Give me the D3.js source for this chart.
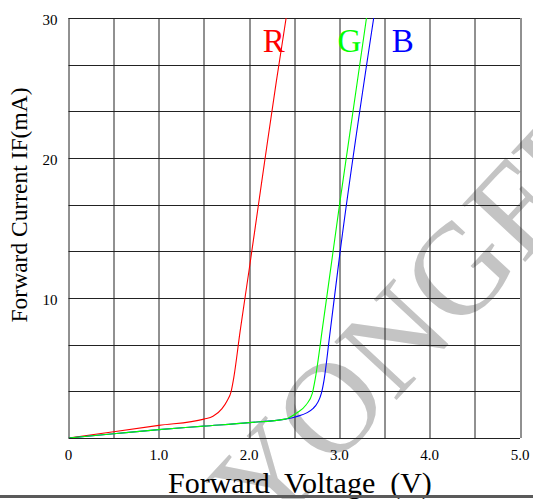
<!DOCTYPE html>
<html>
<head>
<meta charset="utf-8">
<script src="https://cdn.jsdelivr.net/npm/d3@7"></script>
<style>
  body { margin: 0; background: #fff; }
  svg { display: block; }
  text { font-family: "Liberation Serif", "Times New Roman", serif; }
</style>
</head>
<body>
<svg id="chart"></svg>
<script>
// data (V, mA)
var redV   = [0, 0.5, 1.0, 1.5, 1.6, 1.7, 1.76, 1.8, 1.83, 1.9, 2.0, 2.1, 2.2, 2.3, 2.41];
var redI   = [0, 0.45, 0.9, 1.35, 1.55, 2.1, 2.7, 3.3, 4.3, 7.6, 12.0, 16.5, 21.0, 25.4, 30];
var greenV = [0, 0.5, 1.0, 1.5, 2.0, 2.4, 2.52, 2.63, 2.70, 2.73, 2.82, 3.0, 3.30];
var greenI = [0, 0.3, 0.6, 0.85, 1.1, 1.35, 1.76, 2.36, 3.19, 4.14, 8.2, 16.6, 30];
var blueV  = [0, 0.5, 1.0, 1.5, 2.0, 2.4, 2.52, 2.71, 2.80, 2.83, 2.89, 3.0, 3.38];
var blueI  = [0, 0.3, 0.6, 0.85, 1.1, 1.35, 1.52, 2.12, 3.19, 4.14, 7.2, 12.9, 30];

var xTicks = [0, 1.0, 2.0, 3.0, 4.0, 5.0];
var yTicks = [10, 20, 30];
var seriesNames = ["R", "G", "B"];

var width = 533, height = 499;
var margin = { left: 68.5, top: 18, right: 13, bottom: 61 };
var innerW = width - margin.left - margin.right;
var innerH = height - margin.top - margin.bottom;

var svg = d3.select("#chart").attr("width", width).attr("height", height);

var x = d3.scaleLinear().domain([0, 5]).range([0, innerW]);
var y = d3.scaleLinear().domain([0, 30]).range([innerH, 0]);

// watermark
svg.append("text")
    .attr("transform", "translate(266,540) rotate(-47)")
    .attr("font-size", 130)
    .attr("fill", "#c4c4c4")
    .text("YONGFU");

var g = svg.append("g")
    .attr("transform", "translate(" + margin.left + "," + margin.top + ")");

// grid
var vLines = d3.range(0, 5.01, 0.5);
var hLines = d3.range(0, 9.01, 1).map(function (d) { return d * 30 / 9; });

g.selectAll(".vl").data(vLines).enter().append("line")
    .attr("x1", function (d) { return Math.round(x(d)) + 0.5; })
    .attr("x2", function (d) { return Math.round(x(d)) + 0.5; })
    .attr("y1", 0).attr("y2", innerH)
    .attr("stroke", "#222").attr("stroke-width", 1);

g.selectAll(".hl").data(hLines).enter().append("line")
    .attr("y1", function (d) { return Math.round(y(d)) + 0.5; })
    .attr("y2", function (d) { return Math.round(y(d)) + 0.5; })
    .attr("x1", 0).attr("x2", innerW)
    .attr("stroke", "#222").attr("stroke-width", 1);

// tick labels
g.selectAll(".xt").data(xTicks).enter().append("text")
    .attr("x", function (d) { return x(d); })
    .attr("y", innerH + 22)
    .attr("text-anchor", "middle")
    .attr("font-size", 15)
    .text(function (d) { return d === 0 ? "0" : d.toFixed(1); });

g.selectAll(".yt").data(yTicks).enter().append("text")
    .attr("x", -11)
    .attr("y", function (d) { return y(d) + 7; })
    .attr("text-anchor", "end")
    .attr("font-size", 15)
    .text(function (d) { return d; });

// curves
var line = d3.line()
    .x(function (d) { return x(d[0]); })
    .y(function (d) { return y(d[1]); })
    .curve(d3.curveMonotoneX);

g.append("clipPath").attr("id", "clip")
    .append("rect").attr("width", innerW).attr("height", innerH);

var curves = [
    { v: redV, i: redI, color: "#ff0000" },
    { v: blueV, i: blueI, color: "#0000ff" },
    { v: greenV, i: greenI, color: "#00ff00" }
];

curves.forEach(function (c) {
    g.append("path")
        .attr("clip-path", "url(#clip)")
        .attr("d", line(d3.zip(c.v, c.i)))
        .attr("fill", "none")
        .attr("stroke", c.color)
        .attr("stroke-width", 1.1);
});

// series labels
var labelX = [2.15, 2.98, 3.58];
var labelColor = ["#ff0000", "#00ff00", "#0000ff"];
g.selectAll(".lab").data(seriesNames).enter().append("text")
    .attr("x", function (d, i) { return x(labelX[i]); })
    .attr("y", 34)
    .attr("font-size", 33)
    .attr("fill", function (d, i) { return labelColor[i]; })
    .text(function (d) { return d; });

// axis titles
svg.append("text")
    .attr("x", 168).attr("y", 493)
    .attr("font-size", 30)
    .style("white-space", "pre")
    .text("Forward  Voltage  (V)");

svg.append("text")
    .attr("transform", "translate(27,205) rotate(-90)")
    .attr("text-anchor", "middle")
    .attr("font-size", 23.5)
    .text("Forward Current IF(mA)");

// bottom rule
svg.append("line")
    .attr("x1", 0).attr("x2", width)
    .attr("y1", 496.5).attr("y2", 496.5)
    .attr("stroke", "#5a5a5a").attr("stroke-width", 3);
</script>
</body>
</html>
